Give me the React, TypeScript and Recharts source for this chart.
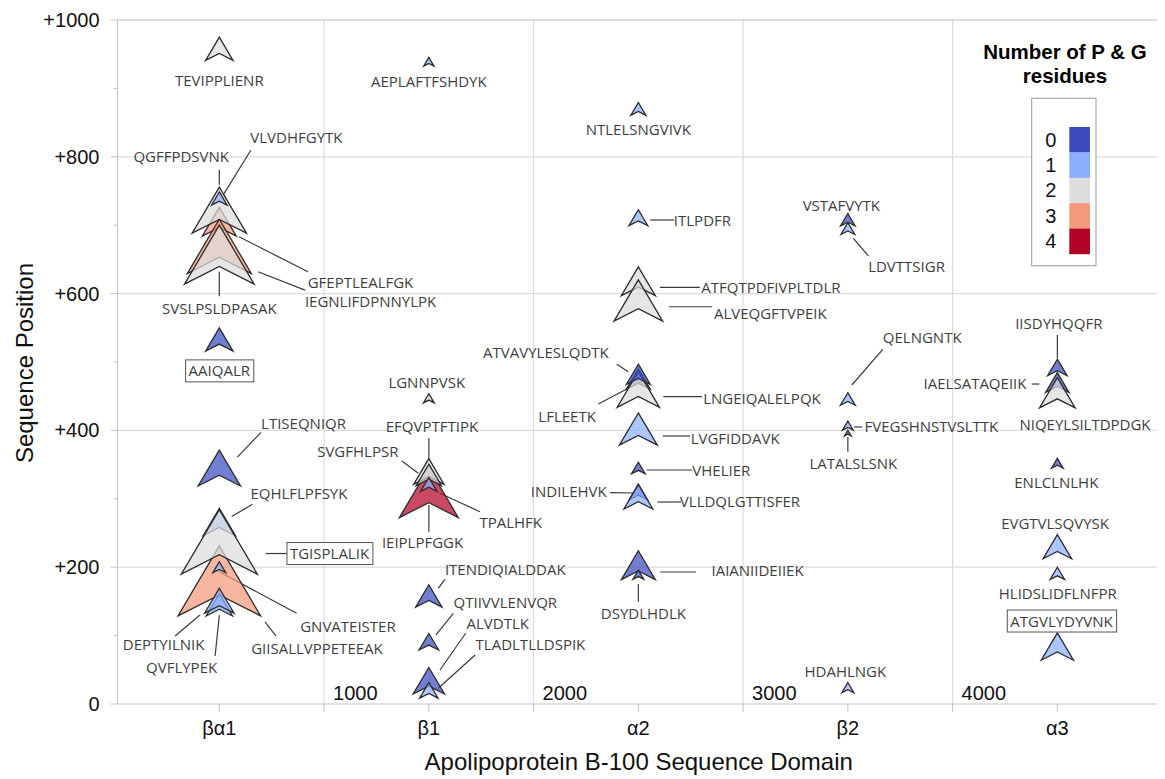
import React, { useLayoutEffect, useRef, useState } from 'react';
import { ComposedChart, Scatter, XAxis, YAxis, ZAxis, ReferenceLine, Legend } from 'recharts';

// ApoB-100 domains along the x axis and the residue numbers between them
const domains = ['βα1', 'β1', 'α2', 'β2', 'α3'];
const domainBoundaries = ['1000', '2000', '3000', '4000'];
const positionTicks = [0, 100, 200, 300, 400, 500, 600, 700, 800, 900, 1000];
const positionGrid = [200, 400, 600, 800];

// colour classes: number of Pro + Gly residues in the peptide
const pgLevels = [0, 1, 2, 3, 4];
const pgColors = ['#3b4cc0', '#8db0fe', '#dddddd', '#f49a7b', '#b40426'];

// peptides, in drawing order
const peptides = [
  'TEVIPPLIENR', 'AAIQALR', 'LTISEQNIQR', 'GFEPTLEALFGK', 'IEGNLIFDPNNYLPK', 'SVSLPSLDPASAK', 'QGFFPDSVNK',
  'VLVDHFGYTK', 'EQHLFLPFSYK', 'GIISALLVPPETEEAK', 'TGISPLALIK', 'GNVATEISTER', 'DEPTYILNIK', 'QVFLYPEK',
  'AEPLAFTFSHDYK', 'LGNNPVSK', 'IEIPLPFGGK', 'EFQVPTFTIPK', 'SVGFHLPSR', 'TPALHFK', 'ITENDIQIALDDAK',
  'QTIIVVLENVQR', 'ALVDTLK', 'TLADLTLLDSPIK',
  'NTLELSNGVIVK', 'ITLPDFR', 'ATFQTPDFIVPLTDLR', 'ALVEQGFTVPEIK', 'LFLEETK', 'LNGEIQALELPQK', 'ATVAVYLESLQDTK',
  'LVGFIDDAVK', 'VHELIER', 'INDILEHVK', 'VLLDQLGTTISFER', 'IAIANIIDEIIEK', 'DSYDLHDLK',
  'LDVTTSIGR', 'VSTAFVYTK', 'QELNGNTK', 'LATALSLSNK', 'FVEGSHNSTVSLTTK', 'HDAHLNGK',
  'IISDYHQQFR', 'IAELSATAQEIIK', 'NIQEYLSILTDPDGK', 'ENLCLNLHK', 'EVGTVLSQVYSK', 'HLIDSLIDFLNFPR', 'ATGVLYDYVNK',
];

const peptideDomain = [
  'βα1', 'βα1', 'βα1', 'βα1', 'βα1', 'βα1', 'βα1', 'βα1', 'βα1', 'βα1', 'βα1', 'βα1', 'βα1', 'βα1',
  'β1', 'β1', 'β1', 'β1', 'β1', 'β1', 'β1', 'β1', 'β1', 'β1',
  'α2', 'α2', 'α2', 'α2', 'α2', 'α2', 'α2', 'α2', 'α2', 'α2', 'α2', 'α2', 'α2',
  'β2', 'β2', 'β2', 'β2', 'β2', 'β2',
  'α3', 'α3', 'α3', 'α3', 'α3', 'α3', 'α3',
];

// position of the peptide within its domain (residues past the domain start)
const relPosition = [
  958, 533, 345, 705, 669, 657, 722, 739, 266, 180, 237, 200, 145, 151,
  939, 447, 309, 340, 335, 321, 158, 91, 34, 20,
  870, 711, 618, 590, 475, 460, 482, 402, 345, 310, 303, 203, 189,
  695, 708, 446, 396, 407, 24,
  492, 470, 455, 352, 230, 191, 84,
];

const pgResidues = [
  2, 0, 0, 3, 3, 2, 2, 1, 1, 3, 2, 1, 1, 1,
  1, 2, 4, 2, 2, 1, 0, 0, 0, 1,
  1, 1, 2, 2, 0, 2, 0, 1, 0, 0, 1, 0, 0,
  1, 0, 1, 0, 1, 1,
  0, 0, 2, 0, 1, 1, 1,
];

// relative signal, encoded as marker area
const abundance = [
  13, 13, 31, 20, 71, 84, 51, 4.2, 18, 118, 100, 2.9, 12, 15,
  1.8, 2.0, 60, 16, 11, 4.6, 12, 6.6, 17, 5.9,
  4.0, 6.1, 20, 41, 9.9, 31, 9.9, 25, 3.2, 5.9, 14.5, 20, 2.0,
  3.3, 3.7, 3.8, 0.8, 2.0, 2.5,
  6.6, 9.5, 22, 2.3, 14, 3.6, 18,
];

// annotation anchors in axis units: [domain index, sequence position]
const labelAt: Record<string, [number, number]> = {
  TEVIPPLIENR: [0, 912], AAIQALR: [0, 487], LTISEQNIQR: [0.402, 410], GFEPTLEALFGK: [0.674, 616],
  IEGNLIFDPNNYLPK: [0.722, 588], SVSLPSLDPASAK: [0, 578.5], QGFFPDSVNK: [-0.182, 800], VLVDHFGYTK: [0.368, 827.5],
  EQHLFLPFSYK: [0.38, 308], GIISALLVPPETEEAK: [0.466, 81.4], TGISPLALIK: [0.526, 220], GNVATEISTER: [0.614, 114],
  DEPTYILNIK: [-0.266, 86.3], QVFLYPEK: [-0.18, 53.7],
  AEPLAFTFSHDYK: [1, 910], LGNNPVSK: [0.99, 469.7], IEIPLPFGGK: [0.97, 235.8], EFQVPTFTIPK: [1.015, 405.4],
  SVGFHLPSR: [0.661, 368.9], TPALHFK: [1.391, 265.1], ITENDIQIALDDAK: [1.365, 196.9], QTIIVVLENVQR: [1.365, 148.1],
  ALVDTLK: [1.329, 118], TLADLTLLDSPIK: [1.485, 86.3],
  NTLELSNGVIVK: [2, 839.2], ITLPDFR: [2.306, 707.6], ATFQTPDFIVPLTDLR: [2.633, 609.2], ALVEQGFTVPEIK: [2.63, 571.2],
  ATVAVYLESLQDTK: [1.559, 513.2], LFLEETK: [1.66, 421], LNGEIQALELPQK: [2.59, 446.9], LVGFIDDAVK: [2.462, 388.5],
  VHELIER: [2.396, 342.1], INDILEHVK: [1.668, 310.4], VLLDQLGTTISFER: [2.485, 295.8], IAIANIIDEIIEK: [2.569, 194.9],
  DSYDLHDLK: [2.024, 132.6],
  VSTAFVYTK: [2.969, 729.5], LDVTTSIGR: [3.28, 639.3], QELNGNTK: [3.355, 535.5], FVEGSHNSTVSLTTK: [3.399, 405.4],
  LATALSLSNK: [3.026, 351.9], HDAHLNGK: [2.988, 47.2],
  IISDYHQQFR: [4.007, 555.6], IAELSATAQEIIK: [3.607, 468.9], NIQEYLSILTDPDGK: [4.132, 408.9], ENLCLNLHK: [3.995, 323.5],
  EVGTVLSQVYSK: [3.989, 264.2], HLIDSLIDFLNFPR: [4.002, 161.8], ATGVLYDYVNK: [4.02, 121.3],
};

// leader lines from marker to name: [x1, y1, x2, y2] in axis units
const leaderLines: Record<string, [number, number, number, number]> = {
  LTISEQNIQR: [0.086, 361, 0.199, 397], GFEPTLEALFGK: [0.094, 683, 0.423, 632],
  IEGNLIFDPNNYLPK: [0.185, 632, 0.409, 605], SVSLPSLDPASAK: [0, 632, 0, 596], QGFFPDSVNK: [0, 781, 0, 759],
  VLVDHFGYTK: [0.018, 744, 0.151, 810], EQHLFLPFSYK: [0.059, 274, 0.158, 292],
  GIISALLVPPETEEAK: [0.218, 120, 0.271, 99.4], TGISPLALIK: [0.221, 220, 0.322, 220],
  GNVATEISTER: [0, 193.4, 0.369, 132.6], DEPTYILNIK: [-0.092, 130, -0.211, 99.4], QVFLYPEK: [0, 130, -0.02, 70.2],
  IEIPLPFGGK: [1, 291, 1, 252], EFQVPTFTIPK: [1, 388.4, 1, 359.2], SVGFHLPSR: [0.871, 355.3, 0.95, 337.3],
  TPALHFK: [1.053, 308, 1.244, 281.1], ITENDIQIALDDAK: [1.045, 169.2, 1.077, 182.3],
  QTIIVVLENVQR: [1.034, 100.9, 1.117, 132.6], ALVDTLK: [1.053, 49.7, 1.176, 103.4],
  TLADLTLLDSPIK: [1.045, 23, 1.221, 71.6],
  ITLPDFR: [2.056, 707.6, 2.171, 707.6], ATFQTPDFIVPLTDLR: [2.103, 609.2, 2.294, 609.2],
  ALVEQGFTVPEIK: [2.146, 580.8, 2.352, 580.8], ATVAVYLESLQDTK: [1.897, 496.6, 1.952, 485.8],
  LFLEETK: [1.809, 438.6, 1.952, 461.5], LNGEIQALELPQK: [2.119, 449.3, 2.304, 449.3],
  LVGFIDDAVK: [2.117, 391.8, 2.247, 391.8], VHELIER: [2.04, 342.1, 2.258, 342.1],
  INDILEHVK: [1.865, 309, 1.976, 308.5], VLLDQLGTTISFER: [2.091, 295.3, 2.204, 295.3],
  IAIANIIDEIIEK: [2.104, 193, 2.275, 193], DSYDLHDLK: [2, 175.4, 2, 149.6],
  LDVTTSIGR: [3.026, 680.8, 3.098, 655], QELNGNTK: [3.019, 466.4, 3.167, 518.6],
  FVEGSHNSTVSLTTK: [3.03, 405, 3.068, 405], LATALSLSNK: [3, 390.4, 3, 368.9],
  IISDYHQQFR: [4, 539.5, 4, 505.4], IAELSATAQEIIK: [3.878, 467.8, 3.914, 467.8],
};

const boxedLabels = ['AAIQALR', 'TGISPLALIK', 'ATGVLYDYVNK'];

// ---------------------------------------------------------------------------

const SANS = '"Liberation Sans", Arial, sans-serif';
const LABEL_FONT = '"Open Sans", "Noto Sans", sans-serif';
const AXIS = '#c2c2c2';
const GRID = '#dcdcdc';
const INK = '#3e3e3e';

const X_MIN = -0.486;
const X_MAX = 4.509;

const markerRows = peptides.map((seq, i) => ({
  seq,
  x: domains.indexOf(peptideDomain[i]),
  y: relPosition[i],
  z: abundance[i],
  pg: pgResidues[i],
}));

const labelRows = peptides.map((seq) => ({
  seq,
  x: labelAt[seq][0],
  y: labelAt[seq][1],
  boxed: boxedLabels.includes(seq),
}));

const xTicks = domains.flatMap((_, i) => (i < domains.length - 1 ? [i, i + 0.5] : [i]));

const Chevron = (props: any) => {
  const { cx, cy, payload } = props;
  const h = props.size != null ? 2 * Math.sqrt(Math.max(props.size, 0) / Math.PI) : props.height;
  if (!isFinite(cx) || !isFinite(cy) || !isFinite(h)) return null;
  const w = h * 1.18;
  const top = cy - h / 2;
  const bot = cy + h / 2;
  const notch = bot - 0.3 * h;
  const pts = `${cx},${top} ${cx + w / 2},${bot} ${cx},${notch} ${cx - w / 2},${bot}`;
  return (
    <polygon
      points={pts}
      fill={pgColors[payload.pg]}
      fillOpacity={0.72}
      stroke="#2c2c2c"
      strokeWidth={1.3}
      strokeLinejoin="miter"
    />
  );
};

const BoxedText = ({ x, y, text }: { x: number; y: number; text: string }) => {
  const ref = useRef<SVGTextElement>(null);
  const [box, setBox] = useState<{ x: number; w: number } | null>(null);
  useLayoutEffect(() => {
    if (ref.current) {
      const b = ref.current.getBBox();
      setBox({ x: b.x, w: b.width });
    }
  }, [x, y, text]);
  return (
    <g>
      {box && (
        <rect x={box.x - 3} y={y - 11} width={box.w + 6} height={22} fill="#fff" stroke="#555" strokeWidth={1} />
      )}
      <text ref={ref} x={x} y={y + 5.5} textAnchor="middle" fontSize={15} fontFamily={LABEL_FONT} fill={INK}>
        {text}
      </text>
    </g>
  );
};

const PeptideLabel = (props: any) => {
  const { cx, cy, payload } = props;
  if (payload.boxed) return <BoxedText x={cx} y={cy} text={payload.seq} />;
  return (
    <text x={cx} y={cy + 5.5} textAnchor="middle" fontSize={15} fontFamily={LABEL_FONT} fill={INK}>
      {payload.seq}
    </text>
  );
};

const XTick = (props: any) => {
  const { x, y, payload } = props;
  const v = payload.value;
  const isDomain = Number.isInteger(v);
  return (
    <g>
      <line x1={x} x2={x} y1={y} y2={y + 8} stroke={AXIS} />
      {isDomain && (
        <text x={x} y={y + 31} textAnchor="middle" fontSize={20} fontFamily={SANS} fill="#111">
          {domains[v]}
        </text>
      )}
    </g>
  );
};

const YTick = (props: any) => {
  const { x, y, payload } = props;
  const v = payload.value;
  const major = v % 200 === 0;
  return (
    <g>
      <line x1={x - (major ? 7 : 4)} x2={x} y1={y} y2={y} stroke={AXIS} />
      {major && (
        <text x={x - 18} y={y + 7} textAnchor="end" fontSize={20} fontFamily={SANS} fill="#111">
          {v === 0 ? '0' : `+${v}`}
        </text>
      )}
    </g>
  );
};

const XTitle = (props: any) => {
  const { x, y, width } = props.viewBox;
  return (
    <text x={x + width / 2 - 2} y={y + 66} textAnchor="middle" fontSize={24} fontFamily={SANS} fill="#111">
      Apolipoprotein B-100 Sequence Domain
    </text>
  );
};

const YTitle = (props: any) => {
  const { y, height } = props.viewBox;
  const cy = y + height / 2 + 1;
  return (
    <text
      x={25}
      y={cy}
      transform={`rotate(-90, 25, ${cy})`}
      textAnchor="middle"
      fontSize={24}
      fontFamily={SANS}
      fill="#111"
    >
      Sequence Position
    </text>
  );
};

const boundaryLabel = (text: string) => (props: any) => {
  const { x, y, height } = props.viewBox;
  return (
    <text x={x + 9} y={y + height - 4} fontSize={20} fontFamily={SANS} fill="#111">
      {text}
    </text>
  );
};

const PgLegend = () => (
  <svg width={200} height={250} style={{ display: 'block', overflow: 'visible' }}>
    <text x={97} y={31} textAnchor="middle" fontSize={20.5} fontWeight="bold" fontFamily={SANS} fill="#000">
      Number of P &amp; G
    </text>
    <text x={97} y={55} textAnchor="middle" fontSize={20.5} fontWeight="bold" fontFamily={SANS} fill="#000">
      residues
    </text>
    <rect x={63.7} y={70.3} width={64.3} height={167.4} fill="#fff" stroke="#9a9a9a" strokeWidth={1} />
    {pgLevels.map((lvl, i) => (
      <g key={lvl}>
        <rect x={101.3} y={99 + 25.4 * i} width={20.7} height={25.6} fill={pgColors[i]} />
        <text x={82.7} y={99 + 25.4 * i + 19.5} textAnchor="middle" fontSize={20} fontFamily={SANS} fill="#111">
          {lvl}
        </text>
      </g>
    ))}
  </svg>
);

export default function App() {
  return (
    <ComposedChart width={1157} height={771} margin={{ top: 12, right: 1, bottom: 0, left: 0 }}>
      <XAxis
        type="number"
        dataKey="x"
        domain={[X_MIN, X_MAX]}
        allowDataOverflow
        ticks={xTicks}
        interval={0}
        tick={<XTick />}
        tickLine={false}
        tickSize={0}
        tickMargin={0}
        axisLine={{ stroke: AXIS }}
        height={75}
        label={XTitle}
      />
      <YAxis
        type="number"
        dataKey="y"
        domain={[0, 1000]}
        allowDataOverflow
        ticks={positionTicks}
        interval={0}
        tick={<YTick />}
        tickLine={false}
        tickSize={0}
        tickMargin={0}
        axisLine={{ stroke: AXIS }}
        width={109.5}
        label={YTitle}
      />
      <ZAxis type="number" dataKey="z" domain={[0, 100]} range={[0, Math.PI * 35 * 35]} />

      {positionGrid.map((v) => (
        <ReferenceLine key={`h${v}`} y={v} stroke={GRID} strokeWidth={1.2} />
      ))}
      {domainBoundaries.map((t, i) => (
        <ReferenceLine key={`v${t}`} x={i + 0.5} stroke={GRID} strokeWidth={1.2} label={boundaryLabel(t)} />
      ))}
      <ReferenceLine y={1000} stroke={AXIS} strokeWidth={1.2} />
      <ReferenceLine x={X_MAX} stroke={AXIS} strokeWidth={1.2} />

      {peptides
        .filter((p) => leaderLines[p])
        .map((p) => {
          const [x1, y1, x2, y2] = leaderLines[p];
          return (
            <ReferenceLine
              key={`l${p}`}
              segment={[
                { x: x1, y: y1 },
                { x: x2, y: y2 },
              ]}
              stroke="#3a3a3a"
              strokeWidth={1.2}
            />
          );
        })}

      <Scatter name="peptides" data={markerRows} shape={Chevron} isAnimationActive={false} />
      <Scatter name="names" data={labelRows} shape={PeptideLabel} isAnimationActive={false} />

      <Legend
        layout="vertical"
        align="center"
        verticalAlign="middle"
        content={() => <PgLegend />}
        wrapperStyle={{ position: 'absolute', left: 960, top: 20, width: 200, height: 250 }}
      />
    </ComposedChart>
  );
}
